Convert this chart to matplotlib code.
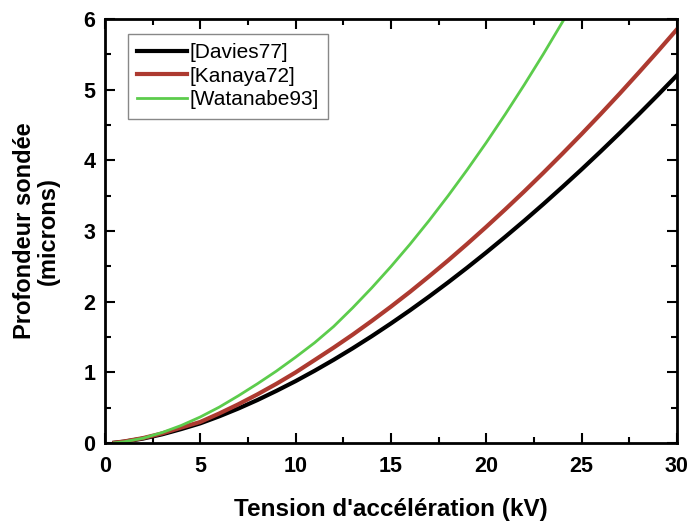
import matplotlib
matplotlib.use('Agg')
from matplotlib import pyplot as plt
from matplotlib.ticker import MultipleLocator

# values (kV -> microns)
kv = [0.5, 1, 2, 3, 4, 5, 6, 7, 8, 9, 10, 11, 12, 13, 14, 15,
      16, 17, 18, 19, 20, 21, 22, 23, 24, 25, 26, 27, 28, 29, 30]
davies77 = [0.006, 0.021, 0.065, 0.125, 0.199, 0.28, 0.38, 0.49, 0.61, 0.74, 0.877,
            1.024, 1.179, 1.342, 1.513, 1.692, 1.878, 2.072, 2.273, 2.481, 2.696,
            2.918, 3.146, 3.381, 3.623, 3.870, 4.124, 4.384, 4.650, 4.922, 5.2]
kanaya72 = [0.007, 0.024, 0.072, 0.138, 0.22, 0.30, 0.42, 0.55, 0.69, 0.84, 1.0,
            1.175, 1.351, 1.535, 1.729, 1.930, 2.139, 2.358, 2.583, 2.817, 3.058,
            3.306, 3.561, 3.824, 4.094, 4.370, 4.653, 4.942, 5.239, 5.541, 5.85]
kv_w = [0.5, 1, 2, 3, 4, 5, 6, 7, 8, 9, 10, 11, 12, 13, 14, 15,
        16, 17, 18, 19, 20, 21, 22, 23, 24, 24.1]
watanabe93 = [0.005, 0.02, 0.07, 0.15, 0.25, 0.37, 0.51, 0.67, 0.84, 1.02, 1.215,
              1.42, 1.65, 1.915, 2.197, 2.496, 2.812, 3.146, 3.497, 3.865, 4.249,
              4.651, 5.069, 5.503, 5.955, 6.0]

plt.rcParams['font.family'] = ['Liberation Sans', 'DejaVu Sans']

fig = plt.figure(figsize=(6.9, 5.22), dpi=100)
ax = fig.add_axes([0.152, 0.151, 0.829, 0.813])

ax.plot(kv, davies77, color='black', lw=3.0, label='[Davies77]')
ax.plot(kv, kanaya72, color='#ad3a30', lw=3.0, label='[Kanaya72]')
ax.plot(kv_w, watanabe93, color='#5ccc4c', lw=2.0, label='[Watanabe93]')

ax.set_xlim(0, 30)
ax.set_ylim(0, 6)
ax.xaxis.set_major_locator(MultipleLocator(5))
ax.xaxis.set_minor_locator(MultipleLocator(2.5))
ax.yaxis.set_major_locator(MultipleLocator(1))
ax.yaxis.set_minor_locator(MultipleLocator(0.5))
ax.tick_params(which='both', direction='in', top=True, right=True, width=1.5)
ax.tick_params(which='major', length=7, labelsize=15.5)
ax.tick_params(which='minor', length=4)
ax.tick_params(axis='x', which='major', pad=9)
ax.tick_params(axis='y', which='major', pad=7)
for lbl in ax.get_xticklabels() + ax.get_yticklabels():
    lbl.set_fontweight('bold')
for s in ax.spines.values():
    s.set_linewidth(2)

ax.set_xlabel("Tension d'accélération (kV)", fontsize=17.5, fontweight='bold', labelpad=15)
ax.set_ylabel('Profondeur sondée\n(microns)', fontsize=17, fontweight='bold', labelpad=17,
              linespacing=1.05)

leg = ax.legend(loc='upper left', bbox_to_anchor=(0.04, 0.965), fancybox=False,
                prop={'size': 15}, handlelength=2.4, handletextpad=0.1,
                borderpad=0.45, labelspacing=0.22, borderaxespad=0,
                edgecolor='#888888', framealpha=1)
leg.get_frame().set_linewidth(1)

fig.savefig('out.png', dpi=100)
